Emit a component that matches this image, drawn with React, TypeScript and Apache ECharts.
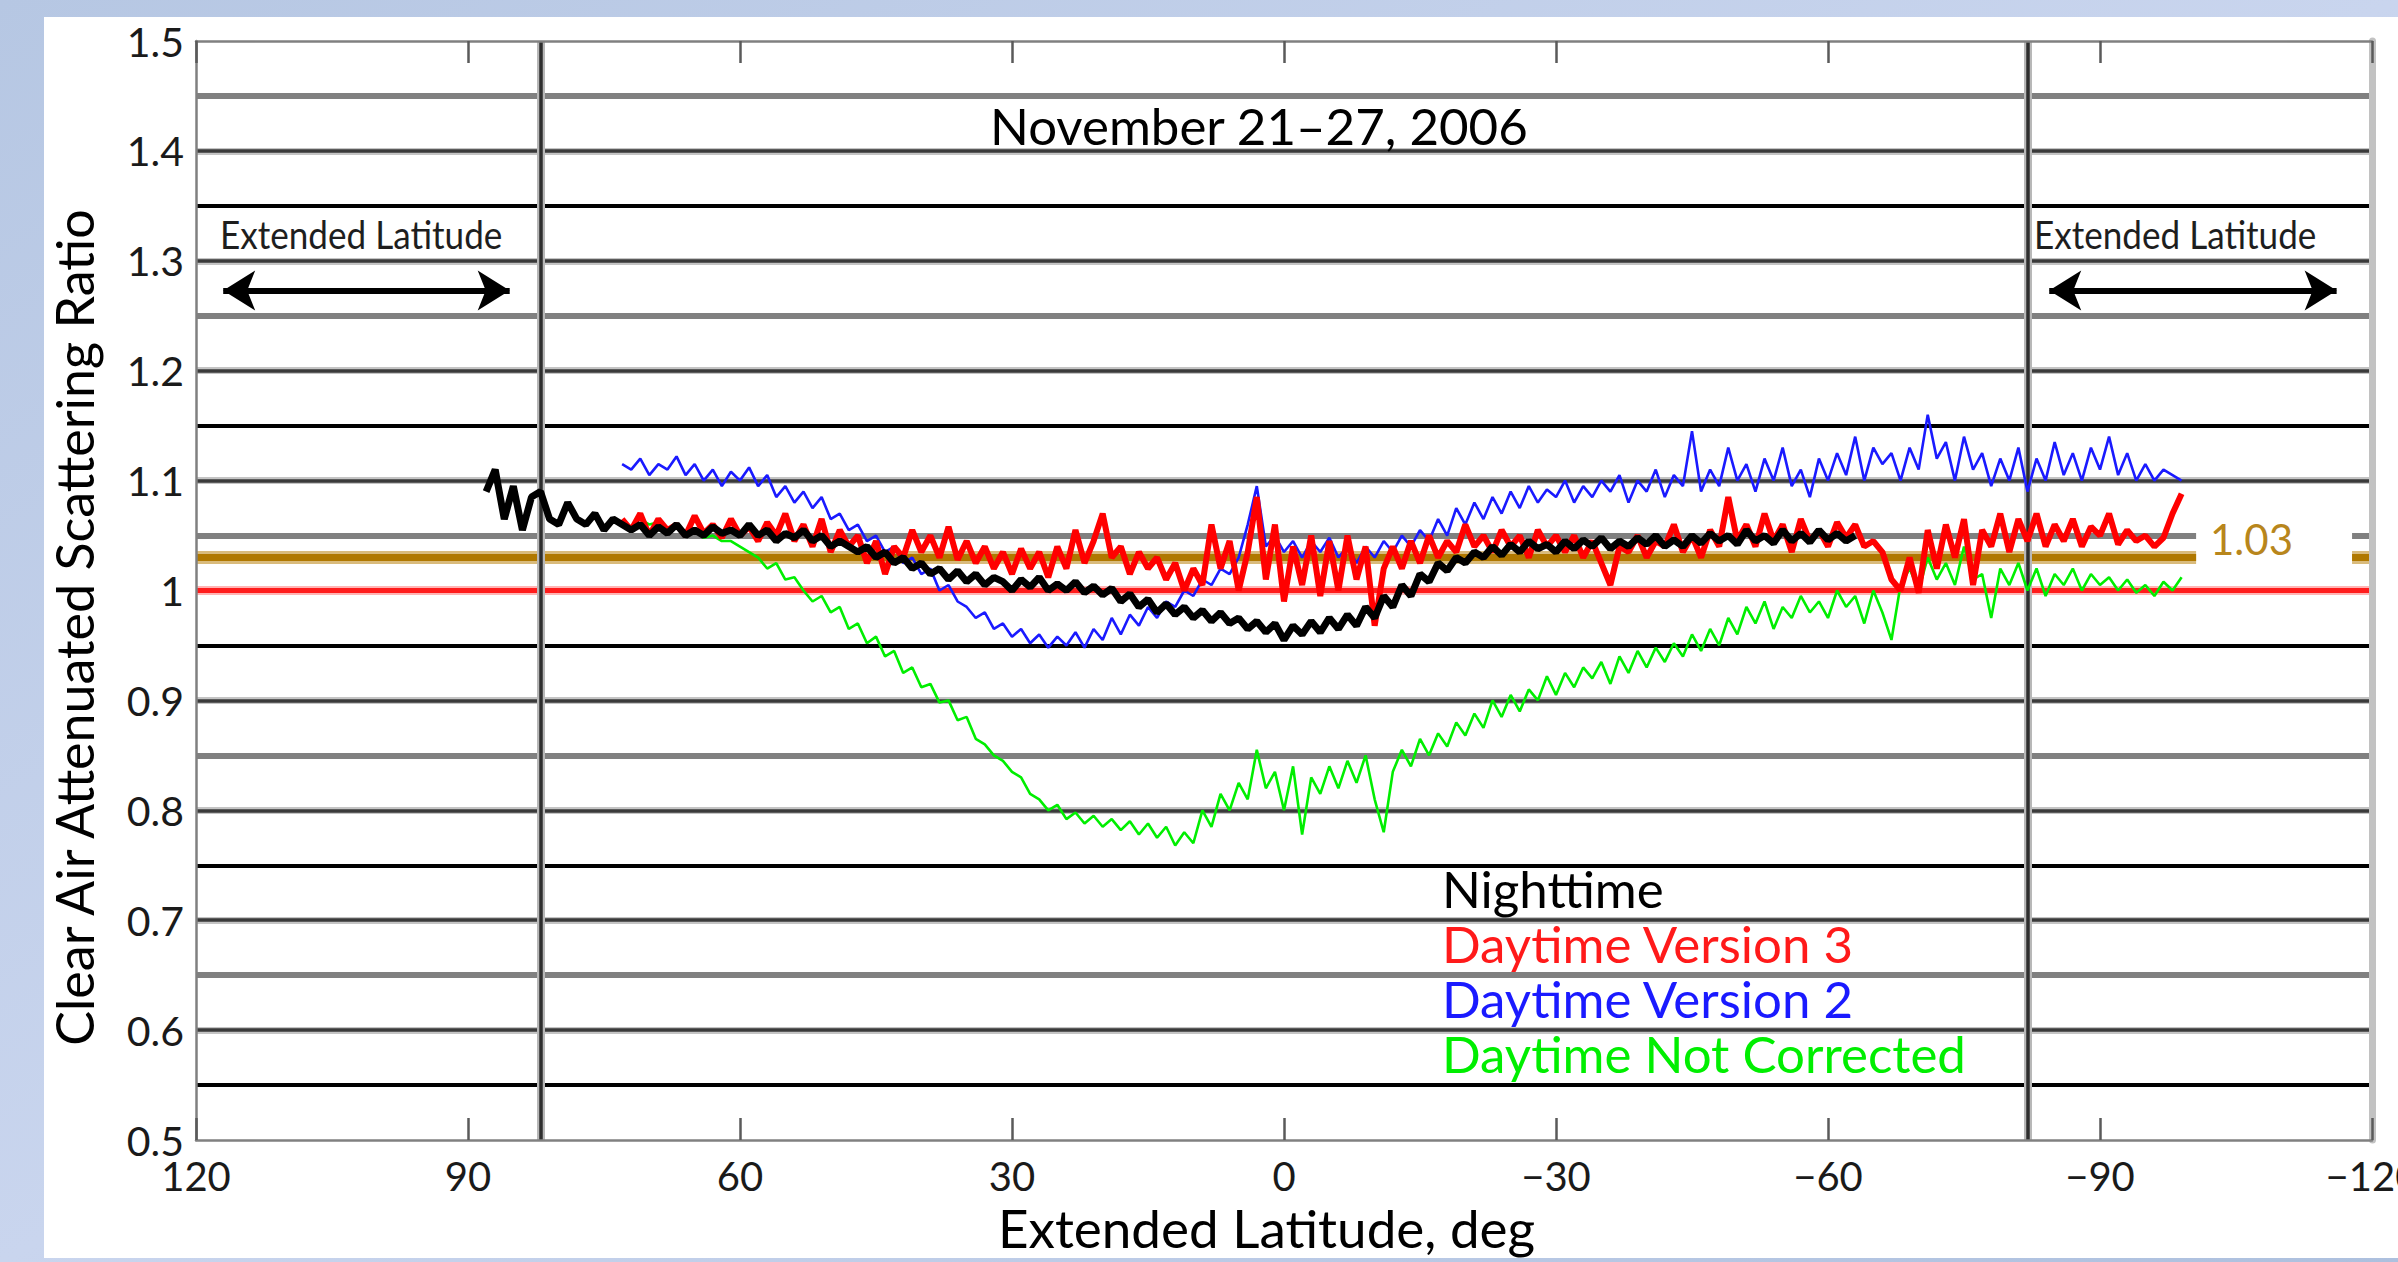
import React, { useEffect, useRef } from "react";
import * as echarts from "echarts";

// ---------- data ----------
const NIGHT_START_LAT = 88; // values at 1-degree steps going south
const nighttime = [
  1.09, 1.11, 1.065, 1.095, 1.055, 1.085, 1.09, 1.065, 1.06, 1.08,
  1.065, 1.06, 1.07, 1.055, 1.065, 1.06, 1.055, 1.06, 1.05, 1.058,
  1.052, 1.06, 1.05, 1.055, 1.05, 1.058, 1.052, 1.055, 1.05, 1.06,
  1.05, 1.055, 1.045, 1.052, 1.048, 1.055, 1.045, 1.05, 1.04, 1.045,
  1.04, 1.035, 1.04, 1.03, 1.035, 1.025, 1.03, 1.02, 1.025, 1.015,
  1.02, 1.01, 1.018, 1.008, 1.015, 1.005, 1.012, 1.008, 1.0, 1.01,
  1.003, 1.012, 1.0, 1.006, 1.0, 1.008, 0.998, 1.004, 0.996, 1.002,
  0.99, 0.997, 0.985, 0.992, 0.98, 0.988, 0.978, 0.985, 0.975, 0.982,
  0.972, 0.98, 0.97, 0.975, 0.965, 0.972, 0.962, 0.97, 0.955, 0.968,
  0.96, 0.972, 0.962, 0.975, 0.965, 0.978, 0.968, 0.985, 0.975, 0.995,
  0.985, 1.005, 0.995, 1.015, 1.008, 1.025, 1.018, 1.03, 1.025, 1.035,
  1.03, 1.04, 1.032, 1.042, 1.035, 1.045, 1.038, 1.042, 1.035, 1.045,
  1.038, 1.046, 1.04, 1.048, 1.038, 1.045, 1.04, 1.048, 1.042, 1.05,
  1.04, 1.046, 1.04, 1.05, 1.043, 1.052, 1.045, 1.05, 1.042, 1.055,
  1.045, 1.05, 1.043, 1.055, 1.045, 1.052, 1.044, 1.055, 1.046, 1.052,
  1.045, 1.05,
];

const V3_START_LAT = 73;
const daytimeV3 = [
  1.065, 1.055, 1.07, 1.05, 1.065, 1.055, 1.06, 1.05, 1.068, 1.052,
  1.06, 1.048, 1.065, 1.05, 1.058, 1.045, 1.062, 1.05, 1.07, 1.045,
  1.06, 1.04, 1.065, 1.035, 1.055, 1.04, 1.05, 1.025, 1.045, 1.015,
  1.04, 1.03, 1.055, 1.035, 1.05, 1.03, 1.058, 1.028, 1.045, 1.025,
  1.04, 1.02, 1.035, 1.015, 1.038, 1.02, 1.035, 1.012, 1.04, 1.02,
  1.055, 1.025, 1.045, 1.07, 1.03, 1.04, 1.015, 1.035, 1.02, 1.03,
  1.01, 1.025, 1.0, 1.02, 1.005, 1.06, 1.02, 1.045, 1.0, 1.035,
  1.085, 1.01, 1.06, 0.99, 1.04, 1.005, 1.05, 0.995, 1.045, 1.0,
  1.05, 1.01, 1.04, 0.968, 1.02, 1.04, 1.02, 1.045, 1.025, 1.05,
  1.03, 1.045, 1.035, 1.06, 1.04, 1.05, 1.035, 1.055, 1.04, 1.05,
  1.03, 1.055, 1.04, 1.05, 1.035, 1.05, 1.03, 1.045, 1.025, 1.005,
  1.04, 1.035, 1.05, 1.03, 1.045, 1.04, 1.06, 1.035, 1.05, 1.03,
  1.055, 1.04, 1.085, 1.045, 1.06, 1.04, 1.07, 1.045, 1.06, 1.035,
  1.065, 1.045, 1.055, 1.04, 1.062, 1.048, 1.06, 1.04, 1.045, 1.035,
  1.01, 1.0, 1.03, 0.998, 1.055, 1.02, 1.06, 1.03, 1.065, 1.005,
  1.055, 1.04, 1.07, 1.035, 1.065, 1.045, 1.07, 1.04, 1.06, 1.045,
  1.065, 1.04, 1.058, 1.05, 1.07, 1.042, 1.055, 1.045, 1.05, 1.04,
  1.048, 1.07, 1.088,
];

const V2_START_LAT = 73;
const daytimeV2 = [
  1.115, 1.11, 1.12, 1.105, 1.115, 1.11, 1.122, 1.105, 1.115, 1.1,
  1.11, 1.095, 1.108, 1.1, 1.112, 1.095, 1.105, 1.085, 1.095, 1.08,
  1.09, 1.075, 1.085, 1.065, 1.07, 1.055, 1.06, 1.045, 1.05, 1.035,
  1.04, 1.025, 1.03, 1.015, 1.02, 1.0, 1.005, 0.99, 0.985, 0.975,
  0.98, 0.965, 0.97, 0.958, 0.965, 0.952, 0.96, 0.948, 0.958, 0.95,
  0.962, 0.948, 0.965, 0.955, 0.975, 0.96, 0.978, 0.968, 0.985, 0.975,
  0.99, 0.985, 1.0, 0.995, 1.01, 1.005, 1.02, 1.015, 1.03, 1.06,
  1.095, 1.04, 1.05, 1.035, 1.045, 1.03, 1.045, 1.035, 1.048, 1.03,
  1.04, 1.025, 1.04, 1.03, 1.045, 1.035, 1.05, 1.04, 1.055, 1.045,
  1.065, 1.05, 1.075, 1.06, 1.08, 1.065, 1.085, 1.07, 1.09, 1.075,
  1.095, 1.08, 1.092, 1.085, 1.1, 1.08, 1.095, 1.085, 1.1, 1.09,
  1.105, 1.08, 1.1, 1.09, 1.11, 1.085, 1.105, 1.095, 1.145, 1.09,
  1.11, 1.095, 1.13, 1.1, 1.115, 1.09, 1.12, 1.1, 1.13, 1.095,
  1.11, 1.085, 1.12, 1.1, 1.125, 1.105, 1.14, 1.1, 1.13, 1.115,
  1.125, 1.1, 1.13, 1.11, 1.16, 1.12, 1.135, 1.1, 1.14, 1.11,
  1.125, 1.095, 1.12, 1.1, 1.13, 1.09, 1.12, 1.1, 1.135, 1.105,
  1.125, 1.1, 1.13, 1.11, 1.14, 1.105, 1.125, 1.1, 1.115, 1.1,
  1.11, 1.105, 1.1,
];

const NC_START_LAT = 71;
const notCorrected = [
  1.065, 1.06, 1.062, 1.055, 1.058, 1.05, 1.055, 1.048, 1.05, 1.045,
  1.045, 1.04, 1.035, 1.03, 1.02, 1.025, 1.01, 1.012, 1.0, 0.99,
  0.995, 0.98, 0.985, 0.965, 0.97, 0.952, 0.958, 0.94, 0.945, 0.925,
  0.93, 0.912, 0.915, 0.898, 0.9, 0.882, 0.885, 0.865, 0.86, 0.85,
  0.845, 0.835, 0.83, 0.815, 0.81, 0.8, 0.805, 0.792, 0.798, 0.788,
  0.795, 0.785, 0.792, 0.782, 0.79, 0.778, 0.788, 0.775, 0.785, 0.768,
  0.78, 0.77, 0.8, 0.785, 0.815, 0.8, 0.825, 0.81, 0.855, 0.82,
  0.835, 0.8, 0.84, 0.778, 0.83, 0.815, 0.84, 0.82, 0.845, 0.825,
  0.85, 0.81, 0.78, 0.835, 0.855, 0.84, 0.865, 0.85, 0.87, 0.858,
  0.88, 0.868, 0.888, 0.875, 0.9, 0.885, 0.905, 0.89, 0.91, 0.9,
  0.922, 0.905, 0.925, 0.912, 0.93, 0.92, 0.935, 0.915, 0.94, 0.925,
  0.945, 0.93, 0.948, 0.935, 0.952, 0.94, 0.96, 0.945, 0.965, 0.95,
  0.975, 0.96, 0.985, 0.97, 0.99, 0.965, 0.985, 0.975, 0.995, 0.98,
  0.99, 0.975, 1.0, 0.985, 0.995, 0.97, 1.0, 0.98, 0.955, 1.005,
  1.02, 1.0, 1.03, 1.01, 1.025, 1.005, 1.04, 1.01, 1.015, 0.975,
  1.02, 1.005, 1.025, 1.0, 1.02, 0.995, 1.015, 1.005, 1.02, 1.0,
  1.015, 1.005, 1.012, 1.0, 1.01, 0.998, 1.005, 0.995, 1.008, 1.0,
  1.012,
];

const SERIES_NAMES = ["Nighttime", "Daytime Version 3", "Daytime Version 2", "Daytime Not Corrected"];
const TITLE = "November 21\u201327, 2006";
const X_NAME = "Extended Latitude, deg";
const Y_NAME = "Clear Air Attenuated Scattering Ratio";
const EXT_LABEL = "Extended Latitude";
const EXT_LAT_LIMIT = 82; // boundary of the "extended latitude" regions
const REF_ONE = 1.0;
const REF_MEAN = 1.03;
const REF_MEAN_LABEL = "1.03";
// annotation arrows (data coordinates, lat)
const ARROW_Y = 1.273;
const ARROW_LEFT = [117.0, 85.4];
const ARROW_RIGHT = [-84.4, -116.1];
// gap in the 1.03 / 1.05 lines where the "1.03" label sits
const LABEL_GAP = [-100.6, -117.8];

// ---------- helpers ----------
const toPairs = (start: number, vals: number[]) => vals.map((v, i) => [start - i, v]);

const FONT = "Lato, 'Open Sans', sans-serif";

function buildMarkLines() {
  const out: any[] = [];
  const split = (v: number, s: any) => {
    out.push([{ coord: [120, v], lineStyle: s }, { coord: [LABEL_GAP[0], v] }]);
    out.push([{ coord: [LABEL_GAP[1], v], lineStyle: s }, { coord: [-120, v] }]);
  };
  for (let k = 1; k <= 19; k++) {
    const v = Math.round((0.5 + 0.05 * k) * 100) / 100;
    if (v === REF_ONE) continue;
    const m = k % 4;
    let styles: any[];
    if (m === 1) styles = [{ color: "#000000", width: 4 }];
    else if (m === 3) styles = [{ color: "#808080", width: 6 }];
    else styles = [{ color: "#c4c4c4", width: 7 }, { color: "#3a3a3a", width: 3.5 }];
    for (const s of styles) {
      const ls = { ...s, type: "solid", opacity: 1 };
      if (v === 1.05) split(v, ls);
      else out.push({ yAxis: v, lineStyle: ls });
    }
  }
  // red reference at 1.0
  out.push({ yAxis: REF_ONE, lineStyle: { color: "#ffb4b4", width: 9, type: "solid" } });
  out.push({ yAxis: REF_ONE, lineStyle: { color: "#ff1c1c", width: 5, type: "solid" } });
  // gold mean line at 1.03
  split(REF_MEAN, { color: "#d9bb7c", width: 13, type: "solid" });
  split(REF_MEAN, { color: "#b07800", width: 7, type: "solid" });
  // extended latitude boundaries
  for (const x of [EXT_LAT_LIMIT, -EXT_LAT_LIMIT]) {
    out.push({ xAxis: x, lineStyle: { color: "#b8b8b8", width: 8, type: "solid" } });
    out.push({ xAxis: x, lineStyle: { color: "#2e2e2e", width: 3.5, type: "solid" } });
  }
  // arrows
  for (const a of [ARROW_LEFT, ARROW_RIGHT]) {
    out.push([
      { coord: [a[0], ARROW_Y], symbol: "arrow", symbolSize: [30, 32], lineStyle: { color: "#000", width: 6, type: "solid" } },
      { coord: [a[1], ARROW_Y], symbol: "arrow", symbolSize: [30, 32] },
    ]);
  }
  return out;
}

const xLabel = (v: number) => (v < 0 ? "\u2212" + Math.abs(v) : String(v));

export default function App() {
  const ref = useRef<HTMLDivElement>(null);
  useEffect(() => {
    const chart = echarts.init(ref.current!, undefined, { renderer: "svg" });
    const commonX = {
      type: "value",
      min: -120,
      max: 120,
      interval: 30,
      inverse: true,
      splitLine: { show: false },
      axisTick: { show: true, inside: true, length: 22, lineStyle: { color: "#5a5a5a", width: 2.5 } },
      axisLine: { show: true, onZero: false, lineStyle: { color: "#808080", width: 2.5 } },
      z: 3,
    };
    const option: any = {
      animation: false,
      backgroundColor: "#ffffff",
      title: {
        text: TITLE,
        left: 990,
        top: 100,
        padding: 0,
        textStyle: { fontSize: 51, fontWeight: "normal", fontFamily: FONT, color: "#000" },
      },
      legend: {
        orient: "vertical",
        left: 1436,
        top: 861,
        padding: 0,
        itemGap: 0,
        itemWidth: 1,
        itemHeight: 55,
        icon: "none",
        selectedMode: false,
        textStyle: { fontSize: 51, fontFamily: FONT, lineHeight: 55 },
        data: [
          { name: SERIES_NAMES[0], textStyle: { color: "#000000" } },
          { name: SERIES_NAMES[1], textStyle: { color: "#ff1a1a" } },
          { name: SERIES_NAMES[2], textStyle: { color: "#1a1aff" } },
          { name: SERIES_NAMES[3], textStyle: { color: "#00ee00" } },
        ],
      },
      grid: { left: 196, top: 41, width: 2176, height: 1099, outerBoundsMode: "none", containLabel: false },
      xAxis: [
        {
          ...commonX,
          position: "bottom",
          axisLabel: { show: true, fontSize: 40, fontFamily: FONT, color: "#1a1a1a", margin: 16, formatter: xLabel },
          name: X_NAME,
          nameLocation: "middle",
          nameGap: 60,
          nameTextStyle: { fontSize: 53, fontFamily: FONT, color: "#000", padding: [0, 35, 0, 0] },
        },
        { ...commonX, position: "top", axisLabel: { show: false } },
      ],
      yAxis: [
        {
          type: "value",
          min: 0.5,
          max: 1.5,
          interval: 0.1,
          position: "left",
          splitLine: { show: false },
          axisTick: { show: false },
          axisLine: { show: true, onZero: false, lineStyle: { color: "#808080", width: 2.5 } },
          axisLabel: { fontSize: 41, fontFamily: FONT, color: "#1a1a1a", margin: 12 },
          name: Y_NAME,
          nameLocation: "middle",
          nameGap: 96,
          nameTextStyle: { fontSize: 52, fontFamily: FONT, color: "#000", padding: [0, 74, 0, 0] },
          z: 3,
        },
        {
          type: "value",
          min: 0.5,
          max: 1.5,
          interval: 0.1,
          position: "right",
          splitLine: { show: false },
          axisTick: { show: false },
          axisLabel: { show: false },
          axisLine: { show: true, onZero: false, lineStyle: { color: "#c2c2c2", width: 7 } },
          z: 3,
        },
      ],
      series: [
        {
          name: SERIES_NAMES[3],
          type: "line",
          data: toPairs(NC_START_LAT, notCorrected),
          showSymbol: false,
          color: "#00ee00",
          lineStyle: { width: 2.6, color: "#00ee00" },
          z: 4,
          markLine: {
            silent: true,
            symbol: "none",
            z: 1,
            animation: false,
            label: { show: false },
            emphasis: { disabled: true },
            data: buildMarkLines(),
          },
        },
        {
          name: SERIES_NAMES[2],
          type: "line",
          data: toPairs(V2_START_LAT, daytimeV2),
          showSymbol: false,
          color: "#1a1aff",
          lineStyle: { width: 2.6, color: "#1a1aff" },
          z: 5,
        },
        {
          name: SERIES_NAMES[1],
          type: "line",
          data: toPairs(V3_START_LAT, daytimeV3),
          showSymbol: false,
          color: "#ff0000",
          lineStyle: { width: 6, color: "#ff0000" },
          z: 6,
        },
        {
          name: SERIES_NAMES[0],
          type: "line",
          data: toPairs(NIGHT_START_LAT, nighttime),
          showSymbol: false,
          color: "#000000",
          lineStyle: { width: 7, color: "#000000" },
          z: 7,
        },
      ],
      graphic: [
        {
          type: "rect",
          silent: true,
          z: -10,
          shape: { x: 0, y: 0, width: 2398, height: 1262 },
          style: {
            fill: new echarts.graphic.LinearGradient(0, 0, 1, 1, [
              { offset: 0, color: "#b6c7e3" },
              { offset: 0.5, color: "#c9d5ee" },
              { offset: 1, color: "#adc0de" },
            ]),
          },
        },
        {
          type: "rect",
          silent: true,
          z: -9,
          shape: { x: 44, y: 17, width: 2354, height: 1241 },
          style: { fill: "#ffffff" },
        },
        {
          type: "text",
          silent: true,
          z: 20,
          x: 220,
          y: 234,
          scaleX: 0.9,
          style: { text: EXT_LABEL, fontSize: 39, fontFamily: FONT, fill: "#1e1e1e", verticalAlign: "middle", align: "left" },
        },
        {
          type: "text",
          silent: true,
          z: 20,
          x: 2034,
          y: 234,
          scaleX: 0.9,
          style: { text: EXT_LABEL, fontSize: 39, fontFamily: FONT, fill: "#1e1e1e", verticalAlign: "middle", align: "left" },
        },
        {
          type: "text",
          silent: true,
          z: 20,
          x: 2210,
          y: 539,
          style: { text: REF_MEAN_LABEL, fontSize: 42, fontFamily: FONT, fill: "#b8861c", verticalAlign: "middle", align: "left" },
        },
      ],
    };
    chart.setOption(option);
    return () => chart.dispose();
  }, []);
  return <div ref={ref} style={{ position: "fixed", left: 0, top: 0, width: 2398, height: 1262 }} />;
}
